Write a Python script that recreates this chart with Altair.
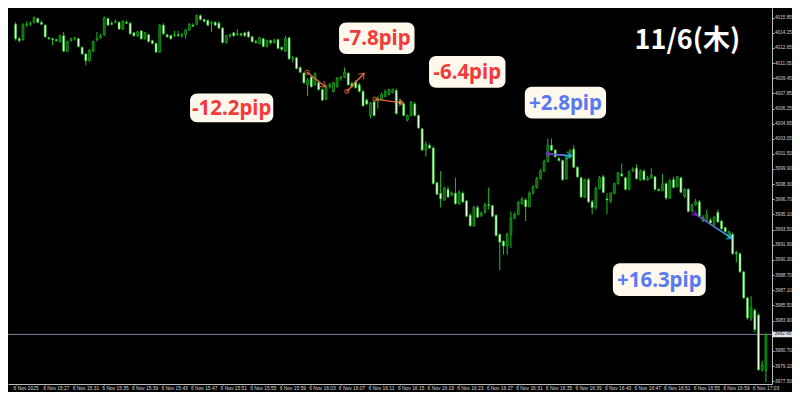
import json
import math
import altair as alt
import pandas as pd

# ---------------- data (30-second candles, XAU price) ----------------
OPEN = [4015.15, 4013.62, 4013.52, 4015.05, 4015.15, 4015.35, 4015.75, 4015.35, 4015.05, 4013.72,
        4013.62, 4013.52, 4013.32, 4013.94, 4012.31, 4013.42, 4013.62, 4013.62, 4012.71, 4012.01,
        4011.30, 4012.31, 4013.52, 4013.72, 4014.04, 4015.75, 4015.25, 4015.35, 4015.35, 4014.64,
        4015.35, 4015.25, 4014.24, 4013.94, 4014.44, 4013.62, 4014.04, 4013.42, 4013.12, 4012.21,
        4015.05, 4014.04, 4013.94, 4013.94, 4014.04, 4013.94, 4014.04, 4014.54, 4015.05, 4015.15,
        4016.06, 4015.65, 4015.55, 4015.25, 4015.35, 4015.25, 4014.74, 4013.22, 4013.94, 4014.24,
        4014.04, 4014.14, 4014.24, 4014.34, 4013.82, 4013.32, 4013.12, 4013.62, 4012.81, 4013.42,
        4013.22, 4013.52, 4012.71, 4012.31, 4013.72, 4011.50, 4011.60, 4010.59, 4009.99, 4008.76,
        4009.58, 4008.76, 4008.98, 4008.26, 4007.25, 4008.56, 4008.06, 4008.56, 4009.48, 4009.58,
        4009.99, 4008.88, 4009.08, 4008.76, 4008.06, 4007.15, 4005.53, 4006.95, 4007.05, 4007.25,
        4007.55, 4007.75, 4007.96, 4008.16, 4007.05, 4006.74, 4005.03, 4005.53, 4006.74, 4005.53,
        4004.12, 4001.89, 4002.39, 4002.09, 3998.44, 3997.33, 3996.62, 3997.74, 3997.13, 3997.33,
        3996.22, 3997.33, 3996.52, 3995.01, 3993.90, 3995.82, 3995.01, 3995.31, 3996.12, 3996.02,
        3995.01, 3992.98, 3992.27, 3991.77, 3992.98, 3994.71, 3995.11, 3996.22, 3996.62, 3995.92,
        3997.33, 3997.94, 3998.86, 3999.66, 4000.67, 4002.39, 4001.88, 4000.98, 4000.78, 3998.86,
        4001.08, 4001.98, 4000.07, 3998.96, 3996.93, 3998.76, 3996.42, 3995.82, 3997.84, 3999.06,
        3996.73, 3996.52, 3997.33, 3998.34, 3999.36, 3998.96, 3997.74, 3999.66, 3999.96, 3998.76,
        3999.66, 3998.76, 3998.96, 3999.06, 3997.74, 3997.63, 3998.34, 3996.83, 3998.76, 3998.04,
        3998.96, 3997.03, 3997.74, 3995.51, 3996.12, 3996.42, 3994.40, 3994.40, 3994.50, 3994.00,
        3995.31, 3994.40, 3993.70, 3992.67, 3992.98, 3991.06, 3990.96, 3989.04, 3986.30, 3984.18,
        3984.99, 3984.48, 3978.72, 3978.62]
HIGH = [4015.35, 4013.82, 4015.25, 4015.45, 4015.45, 4015.96, 4015.85, 4015.55, 4015.15, 4013.82,
        4013.72, 4013.62, 4014.04, 4014.34, 4013.42, 4013.72, 4013.82, 4013.72, 4012.81, 4012.11,
        4012.51, 4013.42, 4014.34, 4014.14, 4015.96, 4015.85, 4015.45, 4015.65, 4015.45, 4015.55,
        4015.55, 4015.35, 4014.34, 4014.44, 4014.54, 4014.34, 4014.14, 4013.52, 4013.22, 4015.15,
        4015.25, 4014.14, 4014.04, 4014.44, 4014.44, 4014.24, 4014.64, 4015.25, 4015.25, 4016.16,
        4016.16, 4015.75, 4015.65, 4015.45, 4015.45, 4015.45, 4014.84, 4014.04, 4014.14, 4014.34,
        4014.64, 4014.24, 4014.34, 4014.44, 4013.94, 4013.52, 4013.82, 4013.72, 4013.52, 4013.52,
        4013.62, 4013.62, 4012.81, 4013.94, 4013.82, 4011.80, 4011.70, 4010.69, 4010.09, 4009.48,
        4009.78, 4010.09, 4009.08, 4008.36, 4008.76, 4008.98, 4009.08, 4009.58, 4009.68, 4010.59,
        4010.09, 4009.08, 4009.28, 4008.98, 4008.26, 4007.35, 4006.95, 4007.15, 4007.55, 4007.96,
        4008.26, 4008.36, 4008.36, 4008.36, 4007.25, 4006.85, 4005.63, 4007.05, 4006.95, 4005.63,
        4004.22, 4002.80, 4002.59, 4002.29, 3998.54, 3999.66, 3998.04, 3998.04, 3997.53, 3998.96,
        3997.63, 3997.53, 3996.62, 3995.21, 3996.02, 3996.02, 3995.41, 3996.32, 3997.94, 3996.12,
        3995.11, 3993.08, 3992.37, 3993.18, 3995.41, 3995.31, 3996.52, 3996.93, 3996.83, 3997.53,
        3998.14, 3999.06, 3999.86, 4000.87, 4003.10, 4003.10, 4001.98, 4001.18, 4000.87, 4001.38,
        4001.98, 4002.39, 4000.17, 3999.06, 3998.86, 3998.96, 3996.62, 3998.04, 3999.16, 3999.26,
        3997.33, 3997.43, 3998.44, 3999.56, 4000.47, 3999.06, 3999.76, 4000.07, 4000.37, 3999.86,
        3999.86, 3999.16, 3999.96, 3999.16, 3997.84, 3999.36, 3998.44, 3998.86, 3999.06, 3999.16,
        3999.06, 3997.84, 3997.84, 3996.22, 3996.73, 3996.62, 3995.01, 3995.61, 3994.71, 3994.91,
        3995.61, 3994.50, 3993.80, 3993.38, 3993.18, 3991.26, 3991.06, 3989.14, 3986.40, 3986.50,
        3985.19, 3984.69, 3979.63, 3982.56]
LOW = [4013.42, 4013.22, 4013.42, 4014.84, 4014.95, 4015.25, 4015.25, 4015.05, 4013.72, 4013.52,
       4012.92, 4013.32, 4013.22, 4012.21, 4012.21, 4013.32, 4013.42, 4012.71, 4011.91, 4010.79,
       4011.20, 4012.21, 4013.32, 4013.62, 4013.94, 4014.95, 4015.05, 4015.25, 4014.54, 4014.54,
       4015.15, 4014.04, 4013.82, 4013.82, 4013.52, 4013.52, 4013.22, 4013.02, 4012.11, 4012.11,
       4014.04, 4013.72, 4013.52, 4013.82, 4013.82, 4013.72, 4013.62, 4014.44, 4014.84, 4015.05,
       4015.55, 4015.35, 4014.95, 4014.34, 4014.95, 4014.64, 4013.12, 4013.12, 4013.72, 4013.82,
       4013.94, 4013.82, 4013.82, 4013.72, 4013.22, 4013.12, 4013.02, 4012.71, 4012.71, 4013.02,
       4013.12, 4012.51, 4012.31, 4012.21, 4011.40, 4011.10, 4010.39, 4009.99, 4008.88, 4007.55,
       4008.46, 4008.66, 4008.16, 4007.05, 4007.15, 4008.36, 4007.96, 4008.46, 4009.18, 4009.48,
       4008.66, 4008.46, 4008.36, 4007.96, 4006.44, 4006.64, 4005.23, 4005.43, 4006.24, 4007.15,
       4007.45, 4007.65, 4007.86, 4005.63, 4006.64, 4005.43, 4004.92, 4005.43, 4005.43, 4004.12,
       4001.79, 4001.18, 4001.99, 3998.24, 3997.13, 3995.82, 3996.52, 3996.83, 3997.03, 3996.12,
       3996.12, 3996.32, 3994.81, 3993.80, 3993.80, 3994.71, 3994.81, 3995.21, 3995.61, 3994.81,
       3992.78, 3989.24, 3990.86, 3990.86, 3991.56, 3994.60, 3995.01, 3996.12, 3994.40, 3995.82,
       3997.23, 3997.84, 3998.76, 3999.56, 4000.57, 4001.79, 4001.08, 4000.67, 3998.64, 3998.76,
       4000.98, 3999.96, 3998.96, 3996.83, 3996.83, 3996.32, 3995.11, 3995.61, 3997.74, 3997.33,
       3995.11, 3996.32, 3997.23, 3998.24, 3999.06, 3997.63, 3997.63, 3999.56, 3998.76, 3998.64,
       3998.64, 3998.64, 3998.86, 3997.63, 3997.53, 3997.53, 3996.62, 3996.73, 3997.84, 3997.94,
       3997.33, 3996.83, 3995.31, 3995.41, 3996.02, 3994.81, 3994.30, 3994.30, 3994.10, 3993.90,
       3994.20, 3993.48, 3993.18, 3992.57, 3990.86, 3990.05, 3988.94, 3986.20, 3983.98, 3983.88,
       3982.66, 3978.62, 3978.52, 3977.39]
CLOSE = [4013.62, 4013.42, 4015.05, 4015.15, 4015.25, 4015.85, 4015.35, 4015.15, 4013.82, 4013.62,
         4013.52, 4013.42, 4013.94, 4012.31, 4013.32, 4013.62, 4013.72, 4012.81, 4012.01, 4011.30,
         4012.41, 4013.32, 4013.62, 4013.94, 4015.85, 4015.05, 4015.15, 4015.45, 4014.64, 4015.45,
         4015.25, 4014.14, 4013.94, 4014.34, 4013.62, 4014.24, 4013.32, 4013.12, 4012.21, 4015.05,
         4014.14, 4013.82, 4013.62, 4014.04, 4013.94, 4014.04, 4014.54, 4015.15, 4014.95, 4016.06,
         4015.65, 4015.45, 4015.05, 4015.35, 4015.05, 4014.74, 4013.22, 4013.94, 4014.04, 4013.94,
         4014.14, 4014.04, 4013.94, 4013.82, 4013.32, 4013.22, 4013.72, 4012.81, 4013.42, 4013.22,
         4013.42, 4012.61, 4012.51, 4013.62, 4011.50, 4011.60, 4010.49, 4010.09, 4008.98, 4009.28,
         4008.56, 4009.89, 4008.26, 4007.15, 4008.56, 4008.76, 4008.98, 4009.48, 4009.58, 4010.09,
         4008.76, 4008.56, 4008.46, 4008.06, 4006.54, 4006.74, 4006.85, 4005.53, 4007.35, 4007.75,
         4008.06, 4008.26, 4008.26, 4005.73, 4006.74, 4005.53, 4005.53, 4006.95, 4005.53, 4004.22,
         4001.89, 4002.49, 4002.09, 3998.34, 3997.23, 3996.73, 3997.84, 3996.93, 3997.33, 3996.22,
         3997.43, 3996.42, 3994.91, 3993.90, 3995.82, 3994.81, 3995.21, 3996.12, 3996.02, 3994.91,
         3992.88, 3992.17, 3991.77, 3992.98, 3994.71, 3995.11, 3996.32, 3996.73, 3995.92, 3997.33,
         3998.04, 3998.86, 3999.66, 4000.67, 4002.39, 4001.88, 4001.18, 4000.78, 3998.76, 4001.18,
         4001.78, 4000.07, 3999.06, 3996.93, 3998.76, 3996.42, 3995.82, 3997.84, 3998.96, 3997.43,
         3996.62, 3997.33, 3998.34, 3999.46, 3999.16, 3997.74, 3999.56, 3999.86, 3998.86, 3999.66,
         3998.76, 3998.96, 3999.26, 3997.74, 3997.63, 3998.34, 3996.83, 3998.64, 3997.94, 3999.06,
         3997.43, 3997.74, 3995.41, 3996.12, 3996.42, 3994.91, 3994.81, 3995.11, 3994.20, 3994.81,
         3994.30, 3993.58, 3993.28, 3993.28, 3990.96, 3990.96, 3989.04, 3986.30, 3984.18, 3985.29,
         3982.96, 3978.72, 3979.22, 3982.45]

TIME_LABELS = ["6 Nov 2025", "6 Nov 15:27", "6 Nov 15:31", "6 Nov 15:35", "6 Nov 15:39",
               "6 Nov 15:43", "6 Nov 15:47", "6 Nov 15:51", "6 Nov 15:55", "6 Nov 15:59",
               "6 Nov 16:03", "6 Nov 16:07", "6 Nov 16:11", "6 Nov 16:15", "6 Nov 16:19",
               "6 Nov 16:23", "6 Nov 16:27", "6 Nov 16:31", "6 Nov 16:35", "6 Nov 16:39",
               "6 Nov 16:43", "6 Nov 16:47", "6 Nov 16:51", "6 Nov 16:55", "6 Nov 16:59",
               "6 Nov 17:03"]
Y_TICKS = [4015.85, 4014.25, 4012.65, 4011.05, 4009.45, 4007.85, 4006.25, 4004.65, 4003.05,
           4001.50, 3999.90, 3998.30, 3996.70, 3995.10, 3993.50, 3991.90, 3990.30, 3988.70,
           3987.10, 3985.50, 3983.90, 3980.70, 3979.10, 3977.50]

BOX_TEXT = ["-12.2pip", "-7.8pip", "-6.4pip", "+2.8pip", "+16.3pip"]
BOX_KIND = ["loss", "loss", "loss", "gain", "gain"]
BOX_X0 = [47.20, 87.51, 111.86, 137.77, 161.60]
BOX_X1 = [69.71, 107.93, 132.54, 159.76, 186.73]
BOX_TOP = [4007.85, 4015.34, 4011.80, 4008.56, 3989.94]
BOX_BOTTOM = [4004.82, 4012.00, 4008.46, 4005.22, 3986.50]

ARROW_KIND = ["loss", "loss", "loss", "gain", "gain"]
ARROW_X0 = [78.87, 89.61, 97.20, 144.06, 183.59]
ARROW_P0 = [4010.08, 4008.06, 4007.25, 4001.48, 3995.20]
ARROW_X1 = [83.85, 94.32, 105.05, 150.34, 193.80]
ARROW_P1 = [4008.56, 4009.98, 4006.84, 4001.27, 3992.57]

TITLE = "11/6(木)"
TITLE_X = 181.75
TITLE_P = 4013.42

# ---------------- layout / style ----------------
# whole chart = 784 x 384 (fits inside the 8px page margin)
W, H = 764, 376
PAD_R, PAD_B = 20, 8
XDOM = [-0.707, 203.30]
YDOM = [3977.22, 4016.86]
GREEN = "#1fbf1f"
BULL = "#0b5a0b"
BEAR = "#eaffe6"
ORANGE = "#ee6a3c"
PURPLE = "#7a2fd4"
CYAN = "#2ac4ef"
RED_TXT = "#f23b3b"
BLUE_TXT = "#5a7af0"
CREAM = "#fff8ec"

XS = alt.Scale(domain=XDOM, nice=False, zero=False)
YS = alt.Scale(domain=YDOM, nice=False, zero=False)
XAXIS = alt.Axis(values=list(range(0, 201, 8)),
                 labelExpr=json.dumps(TIME_LABELS) + "[round(datum.value / 8)]",
                 labelAlign="left", labelBaseline="top", labelFontSize=4.9,
                 labelColor="#dddddd", labelFont="Liberation Sans", tickSize=1,
                 tickColor="#bbbbbb", domainColor="#bbbbbb", labelPadding=0.5,
                 labelOffset=-2.5, grid=False, title=None, labelOverlap=False,
                 labelFlush=False, labelBound=False)
YAXIS = alt.Axis(orient="right", values=Y_TICKS, format=".2f", labelFontSize=4.7,
                 labelColor="#d0d0d0", labelFont="Liberation Sans", tickSize=2,
                 tickColor="#bbbbbb", domainColor="#bbbbbb", labelPadding=0.5,
                 grid=False, title=None, labelOverlap=False, labelFlush=False)


def X(f):
    return alt.X(f, type="quantitative", scale=XS, axis=XAXIS)


def Y(f):
    return alt.Y(f, type="quantitative", scale=YS, axis=YAXIS)


candles = pd.DataFrame({"i": list(range(len(CLOSE))), "open": OPEN, "high": HIGH,
                        "low": LOW, "close": CLOSE})

wicks = alt.Chart(candles).mark_rule(color=GREEN, strokeWidth=1, clip=True).encode(
    x=X("i"), y=Y("low"), y2="high")
bodies = alt.Chart(candles).mark_bar(width=2.0, stroke=GREEN, strokeWidth=0.6, clip=True).encode(
    x=X("i"), y=Y("open"), y2="close",
    fill=alt.condition("datum.close > datum.open", alt.value(BULL), alt.value(BEAR)))

bid = alt.Chart(pd.DataFrame({"p": [CLOSE[-1]]})).mark_rule(color="#778899", strokeWidth=1).encode(
    y=Y("p"))

# arrows
PXB = W / (XDOM[1] - XDOM[0])
PXP = H / (YDOM[1] - YDOM[0])
arr = pd.DataFrame({"kind": ARROW_KIND, "x0": ARROW_X0, "p0": ARROW_P0,
                    "x1": ARROW_X1, "p1": ARROW_P1})
arr["ang"] = [math.degrees(math.atan2(-(b - a) * PXP, (d - c) * PXB)) % 360
              for a, b, c, d in zip(arr.p0, arr.p1, arr.x0, arr.x1)]
arr["start_col"] = [ORANGE if k == "loss" else PURPLE for k in arr.kind]
arr["head_col"] = [ORANGE if k == "loss" else CYAN for k in arr.kind]
loss = arr[arr.kind == "loss"]
gain = arr[arr.kind == "gain"]

loss_lines = alt.Chart(loss).mark_rule(color=ORANGE, strokeWidth=1.3).encode(
    x=X("x0"), y=Y("p0"), x2="x1", y2="p1")

gain_long = pd.DataFrame({
    "id": [n for n in range(len(gain)) for _ in (0, 1)],
    "step": [s for _ in range(len(gain)) for s in (0, 1)],
    "x": [v for a, b in zip(gain.x0, gain.x1) for v in (a, b)],
    "p": [v for a, b in zip(gain.p0, gain.p1) for v in (a, b)],
})
gain_lines = alt.Chart(gain_long).mark_line(
    strokeWidth=1.6,
    color=alt.Gradient(gradient="linear",
                       stops=[alt.GradientStop(color=PURPLE, offset=0),
                              alt.GradientStop(color=CYAN, offset=1)],
                       x1=0, x2=1, y1=0, y2=0)
).encode(x=X("x"), y=Y("p"), detail="id:N", order="step:Q")

starts = alt.Chart(arr).mark_point(shape="circle", size=16, filled=False, strokeWidth=1.2).encode(
    x=X("x0"), y=Y("p0"), color=alt.Color("start_col:N", scale=None))
CHEVRON = "M -1 -0.75 L 0 0 L -1 0.75"
heads = alt.Chart(arr).mark_point(shape=CHEVRON, size=95, filled=False, strokeWidth=1.3).encode(
    x=X("x1"), y=Y("p1"), angle=alt.Angle("ang:Q", scale=None),
    color=alt.Color("head_col:N", scale=None))

# boxes
boxes_df = pd.DataFrame({"text": BOX_TEXT, "kind": BOX_KIND, "x0": BOX_X0, "x1": BOX_X1,
                         "top": BOX_TOP, "bottom": BOX_BOTTOM})
boxes_df["xc"] = (boxes_df.x0 + boxes_df.x1) / 2
boxes_df["yc"] = (boxes_df.top + boxes_df.bottom) / 2
boxes_df["col"] = [RED_TXT if k == "loss" else BLUE_TXT for k in boxes_df.kind]
boxes = alt.Chart(boxes_df).mark_rect(cornerRadius=7, fill=CREAM).encode(
    x=X("x0"), x2="x1", y=Y("top"), y2="bottom")
box_text = alt.Chart(boxes_df).mark_text(
    font="Noto Sans", fontWeight="bold", fontSize=20.5, align="center", baseline="middle", dy=1
).encode(x=X("xc"), y=Y("yc"), text="text:N", color=alt.Color("col:N", scale=None))

title = alt.Chart(pd.DataFrame({"x": [TITLE_X], "p": [TITLE_P], "t": [TITLE]})).mark_text(
    font="Noto Sans CJK JP", fontWeight="bold", fontSize=27, color="#ffffff",
    align="center", baseline="middle"
).encode(x=X("x"), y=Y("p"), text="t:N")

# bid price tag on the axis
tag_df = pd.DataFrame({"hi": [CLOSE[-1] + 0.3], "lo": [CLOSE[-1] - 0.3], "p": [CLOSE[-1]],
                       "t": [f"{CLOSE[-1]:.2f}"]})
tag = alt.Chart(tag_df).mark_rect(fill="#dfe3e8").encode(
    x=alt.value(W), x2=alt.value(W + PAD_R), y=Y("hi"), y2="lo")
tag_text = alt.Chart(tag_df).mark_text(
    font="Liberation Sans", fontSize=4.7, color="#222222", align="left", baseline="middle"
).encode(x=alt.value(W + 2.5), y=Y("p"), text="t:N")

chart = alt.layer(
    bid, wicks, bodies, loss_lines, gain_lines, starts, heads, boxes, box_text, title, tag, tag_text
).properties(
    width=W, height=H,
    padding={"left": 0, "top": 0, "right": PAD_R, "bottom": PAD_B},
    autosize=alt.AutoSizeParams(type="none"),
).configure(background="#000000").configure_view(stroke=None)

chart.save("out.html", embed_options={"renderer": "svg", "actions": False})
